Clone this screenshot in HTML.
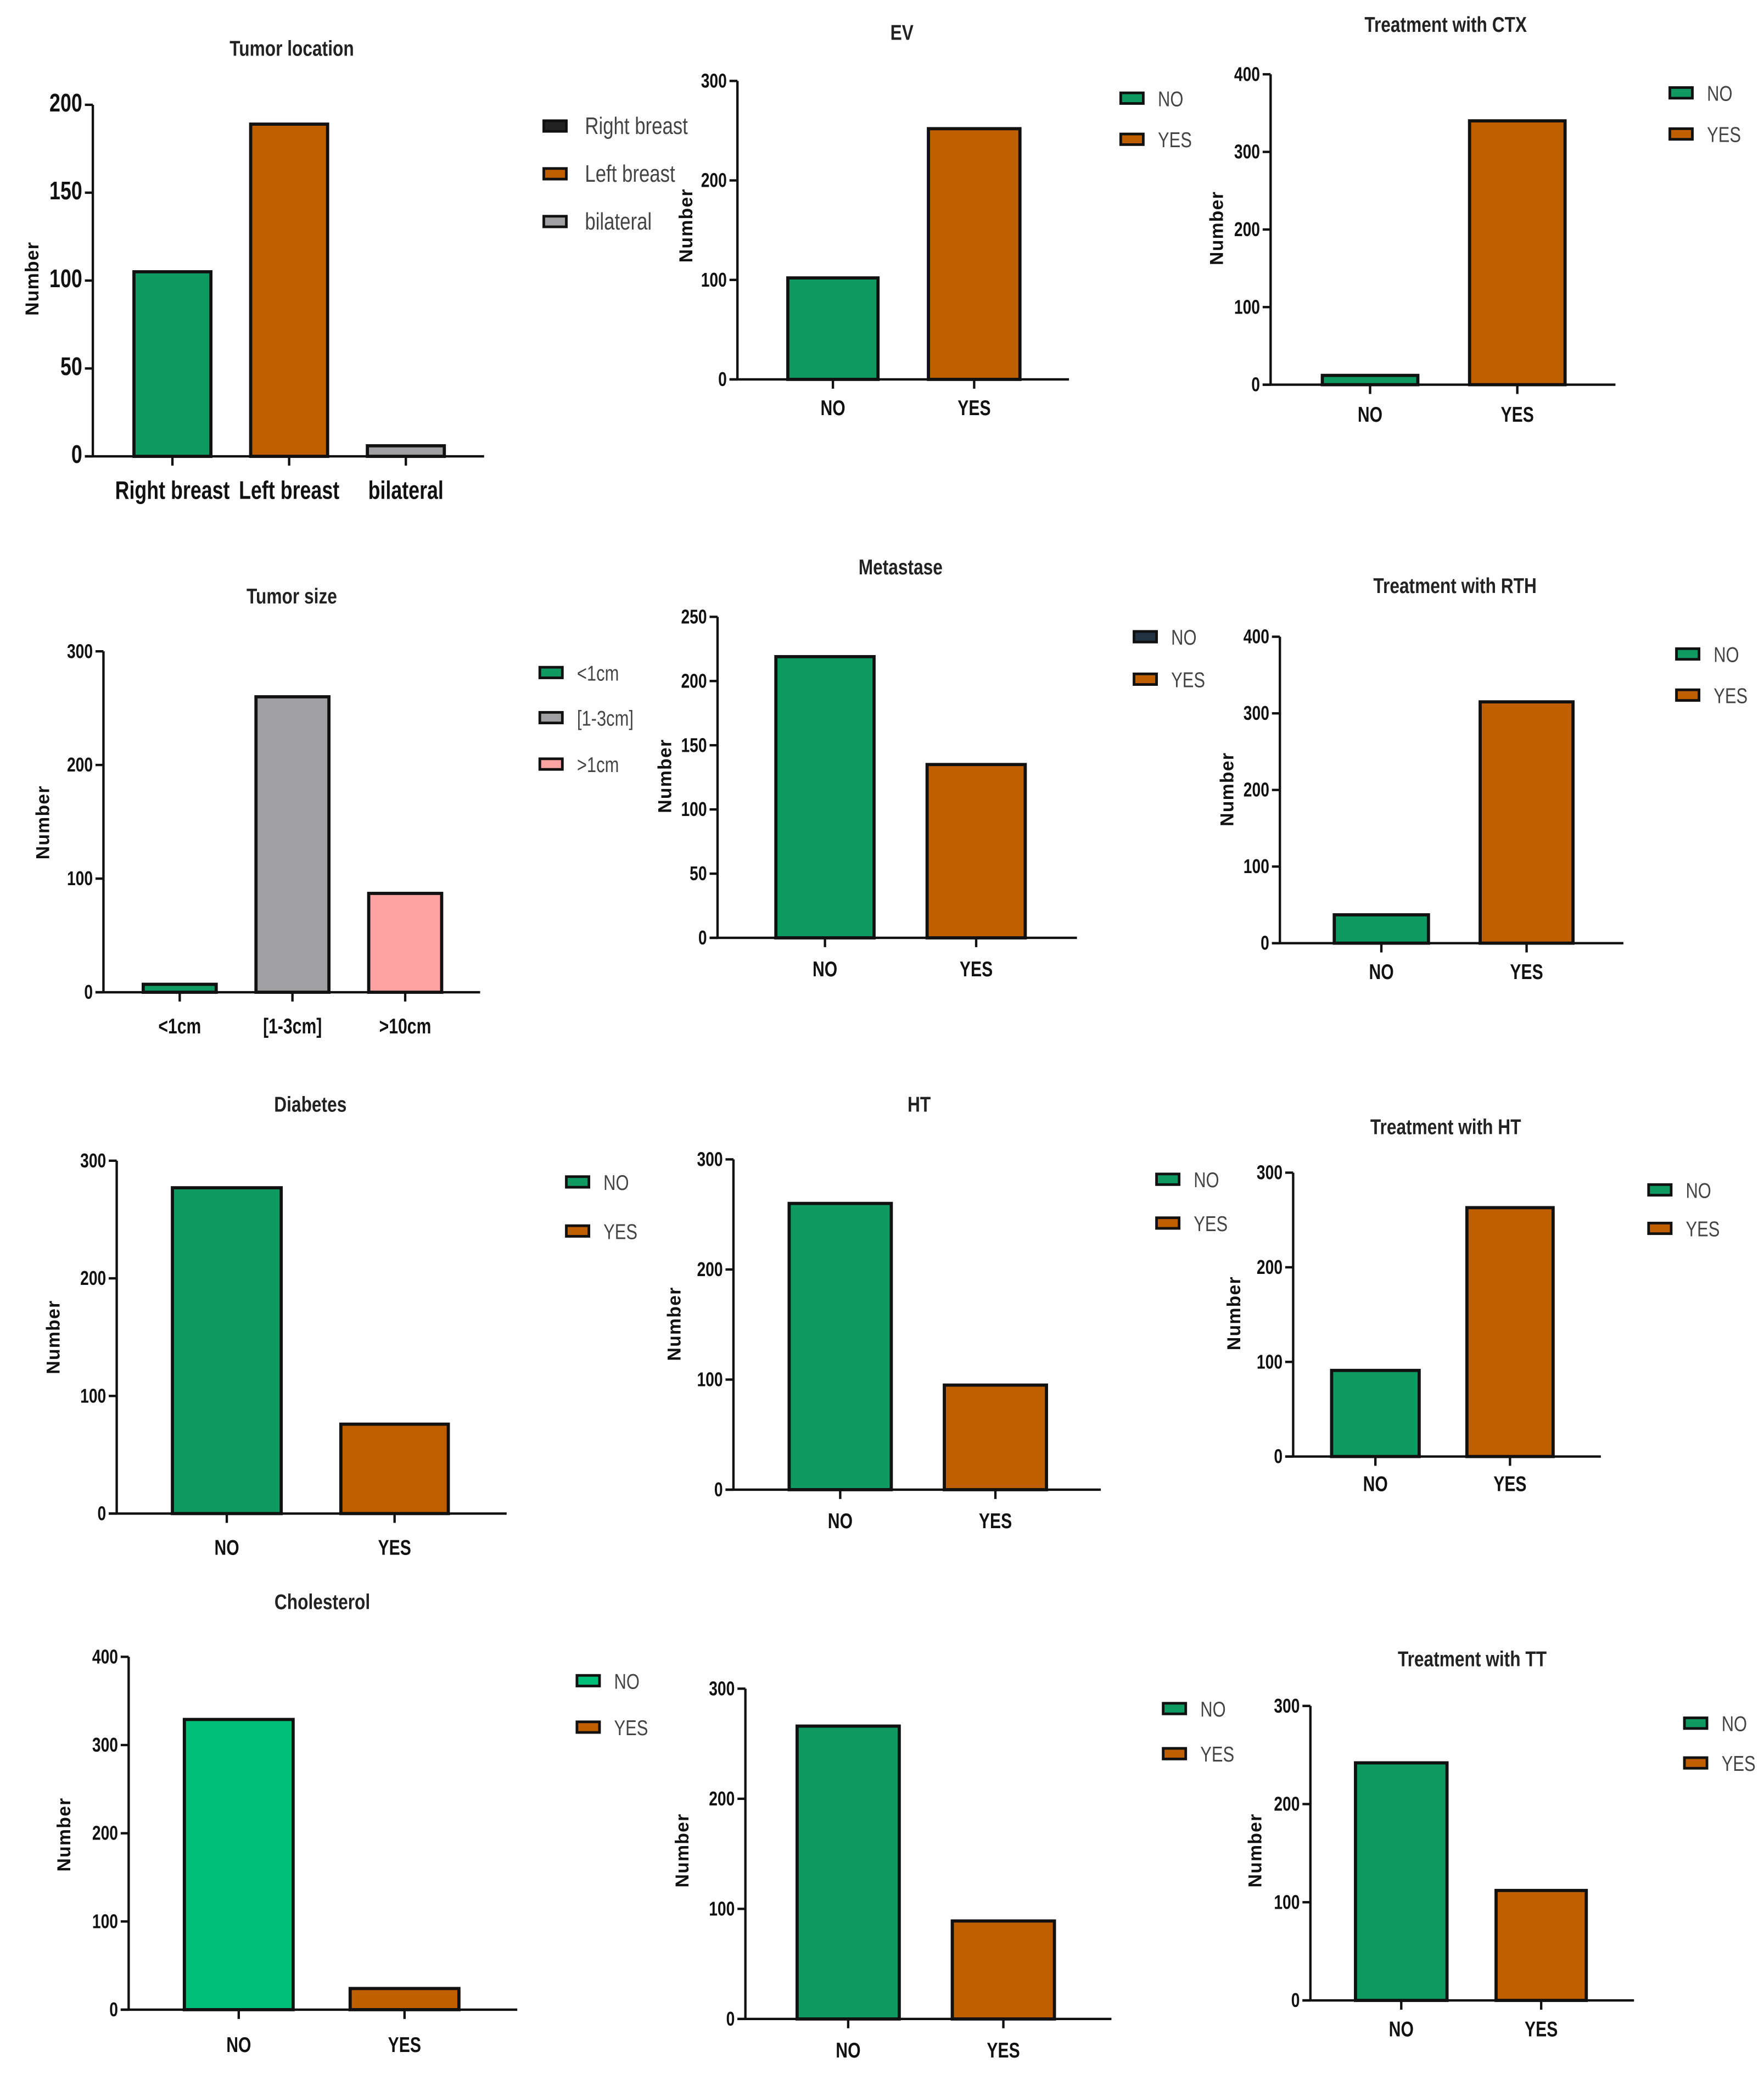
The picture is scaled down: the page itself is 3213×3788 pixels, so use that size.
<!DOCTYPE html>
<html><head><meta charset="utf-8">
<style>
html,body{margin:0;padding:0;background:#fff;}
svg{display:block;}
text{font-family:"Liberation Sans",sans-serif;}
</style></head>
<body>
<svg id="fig" width="3213" height="3788" viewBox="0 0 1330 1568" xmlns="http://www.w3.org/2000/svg"></svg>
<script>
// ---- data ----
const locCats = ["Right breast","Left breast","bilateral"];
const locValues = [105,189,6];
const locTicks = [0,50,100,150,200];
const evCats = ["NO","YES"];
const evValues = [102,252];
const evTicks = [0,100,200,300];
const ctxCats = ["NO","YES"];
const ctxValues = [12,340];
const ctxTicks = [0,100,200,300,400];
const sizeCats = ["<1cm","[1-3cm]",">10cm"];
const sizeLegend = ["<1cm","[1-3cm]",">1cm"];
const sizeValues = [7,260,87];
const sizeTicks = [0,100,200,300];
const metCats = ["NO","YES"];
const metValues = [219,135];
const metTicks = [0,50,100,150,200,250];
const rthCats = ["NO","YES"];
const rthValues = [37,315];
const rthTicks = [0,100,200,300,400];
const diaCats = ["NO","YES"];
const diaValues = [277,76];
const diaTicks = [0,100,200,300];
const htCats = ["NO","YES"];
const htValues = [260,95];
const htTicks = [0,100,200,300];
const thtCats = ["NO","YES"];
const thtValues = [91,263];
const thtTicks = [0,100,200,300];
const cholCats = ["NO","YES"];
const cholValues = [329,24];
const cholTicks = [0,100,200,300,400];
const p11Cats = ["NO","YES"];
const p11Values = [266,89];
const p11Ticks = [0,100,200,300];
const ttCats = ["NO","YES"];
const ttValues = [242,112];
const ttTicks = [0,100,200,300];

const G="#0f9a62", O="#c05f00", GR="#a0a0a2", PK="#ffa2a2", G2="#00c078";
// ---- layout ----
const panels = [
 {id:"tumor-location",title:"Tumor location",tx:220,ty:37,ax:70,ytop:79,y0:344,xr:365,cats:locCats,vals:locValues,ticks:locTicks,bars:[[101,159],[189,247],[277,335]],colors:[G,O,GR],lblY:370,lx:410,ly:[95,131,167],leg:locCats,legC:["#222",O,GR],ytx:24,yty:210,big:true},
 {id:"ev",title:"EV",tx:680,ty:25,ax:556,ytop:61,y0:286,xr:806,cats:evCats,vals:evValues,ticks:evTicks,bars:[[594,662],[700,769]],colors:[G,O],lblY:307,lx:845,ly:[74,105],leg:evCats,legC:[G,O],ytx:517,yty:170},
 {id:"ctx",title:"Treatment with CTX",tx:1090,ty:19,ax:958,ytop:56,y0:290,xr:1218,cats:ctxCats,vals:ctxValues,ticks:ctxTicks,bars:[[997,1069],[1108,1180]],colors:[G,O],lblY:312,lx:1259,ly:[70,101],leg:ctxCats,legC:[G,O],ytx:917,yty:172},
 {id:"tumor-size",title:"Tumor size",tx:220,ty:450,ax:78,ytop:491,y0:748,xr:362,cats:sizeCats,vals:sizeValues,ticks:sizeTicks,bars:[[108,163],[193,248],[278,333]],colors:[G,GR,PK],lblY:773,lx:407,ly:[507,541,576],leg:sizeLegend,legC:[G,GR,PK],ytx:32,yty:620},
 {id:"metastase",title:"Metastase",tx:679,ty:428,ax:541,ytop:465,y0:707,xr:812,cats:metCats,vals:metValues,ticks:metTicks,bars:[[585,659],[699,773]],colors:[G,O],lblY:730,lx:855,ly:[480,512],leg:metCats,legC:["#234",O],ytx:501,yty:585},
 {id:"rth",title:"Treatment with RTH",tx:1097,ty:442,ax:965,ytop:480,y0:711,xr:1224,cats:rthCats,vals:rthValues,ticks:rthTicks,bars:[[1006,1077],[1116,1186]],colors:[G,O],lblY:732,lx:1264,ly:[493,524],leg:rthCats,legC:[G,O],ytx:925,yty:595},
 {id:"diabetes",title:"Diabetes",tx:234,ty:833,ax:88,ytop:875,y0:1141,xr:382,cats:diaCats,vals:diaValues,ticks:diaTicks,bars:[[130,212],[257,338]],colors:[G,O],lblY:1166,lx:427,ly:[891,928],leg:diaCats,legC:[G,O],ytx:40,yty:1008},
 {id:"ht",title:"HT",tx:693,ty:833,ax:553,ytop:874,y0:1123,xr:830,cats:htCats,vals:htValues,ticks:htTicks,bars:[[595,672],[712,789]],colors:[G,O],lblY:1146,lx:872,ly:[889,922],leg:htCats,legC:[G,O],ytx:508,yty:998},
 {id:"treatment-ht",title:"Treatment with HT",tx:1090,ty:850,ax:975,ytop:884,y0:1098,xr:1207,cats:thtCats,vals:thtValues,ticks:thtTicks,bars:[[1004,1070],[1106,1171]],colors:[G,O],lblY:1118,lx:1243,ly:[897,926],leg:thtCats,legC:[G,O],ytx:930,yty:990},
 {id:"cholesterol",title:"Cholesterol",tx:243,ty:1208,ax:97,ytop:1249,y0:1515,xr:390,cats:cholCats,vals:cholValues,ticks:cholTicks,bars:[[139,221],[264,346]],colors:[G2,O],lblY:1541,lx:435,ly:[1267,1302],leg:cholCats,legC:[G2,O],ytx:48,yty:1383},
 {id:"untitled",title:"",tx:700,ty:1250,ax:562,ytop:1273,y0:1522,xr:838,cats:p11Cats,vals:p11Values,ticks:p11Ticks,bars:[[601,678],[718,795]],colors:[G,O],lblY:1545,lx:877,ly:[1288,1322],leg:p11Cats,legC:[G,O],ytx:514,yty:1395},
 {id:"tt",title:"Treatment with TT",tx:1110,ty:1251,ax:988,ytop:1286,y0:1508,xr:1232,cats:ttCats,vals:ttValues,ticks:ttTicks,bars:[[1022,1091],[1128,1196]],colors:[G,O],lblY:1529,lx:1270,ly:[1299,1329],leg:ttCats,legC:[G,O],ytx:946,yty:1395}
];
const NS="http://www.w3.org/2000/svg";
const svg=document.getElementById('fig');
function mk(tag,attrs,parent,txt){const e=document.createElementNS(NS,tag);for(const k in attrs)e.setAttribute(k,attrs[k]);if(txt!==undefined)e.textContent=txt;parent.appendChild(e);return e;}
// condensed text helper
function ctext(x,y,attrs,parent,txt,sx){const a=Object.assign({x:0,y:0,transform:`translate(${x},${y}) scale(${sx||0.82},1)`},attrs);return mk('text',a,parent,txt);}
panels.forEach(p=>{
  const g=mk('g',{},svg);
  
  
  const max=p.ticks[p.ticks.length-1];
  const yS=v=>p.y0-(v/max)*(p.y0-p.ytop);
  if(p.title){
    const t=ctext(p.tx,p.ty+5,{'text-anchor':'middle','font-size':16,'font-weight':'bold',fill:'#222'},g,p.title);
    
    
  }
  const yt=mk('text',{x:0,y:0,'text-anchor':'middle','font-size':14,'font-weight':'bold',fill:'#111',transform:`translate(${p.ytx+5},${p.yty}) rotate(-90)`,'letter-spacing':'0.5'},g,'Number');
  
  
  p.vals.forEach((v,i)=>{
    const [x1,x2]=p.bars[i];
    const r=mk('rect',{x:x1,y:yS(v),width:x2-x1,height:p.y0-yS(v),fill:p.colors[i],stroke:'#111','stroke-width':2.4},g);
    
    
    const cx=(x1+x2)/2;
    mk('line',{x1:cx,x2:cx,y1:p.y0,y2:p.y0+7,stroke:'#111','stroke-width':1.8},g);
    const lb=ctext(cx,p.lblY+6,{'text-anchor':'middle','font-size':p.big?19:16,'font-weight':'bold',fill:'#111'},g,p.cats[i],0.78);
    
    
  });
  const ya=mk('line',{x1:p.ax,x2:p.ax,y1:p.ytop,y2:p.y0,stroke:'#111','stroke-width':1.8},g);
  
  
  const xa=mk('line',{x1:p.ax-6,x2:p.xr,y1:p.y0,y2:p.y0,stroke:'#111','stroke-width':1.8},g);
  
  
  p.ticks.forEach(t=>{
    const y=yS(t);
    mk('line',{x1:p.ax-6,x2:p.ax,y1:y,y2:y,stroke:'#111','stroke-width':1.8},g);
    const tl=ctext(p.ax-8,y+5,{'text-anchor':'end','font-size':p.big?19:15,'font-weight':'bold',fill:'#111'},g,String(t),0.78);
    
    
  });
  p.leg.forEach((l,i)=>{
    const y=p.ly[i];
    const sw=mk('rect',{x:p.lx,y:y-4,width:17,height:8,fill:p.legC[i],stroke:'#111','stroke-width':2},g);
    
    
    const lt=ctext(p.lx+(p.big?31:28),y+6,{'font-size':p.big?18:16,fill:'#444'},g,l,0.8);
    
    
  });
});
</script>
</body></html>
